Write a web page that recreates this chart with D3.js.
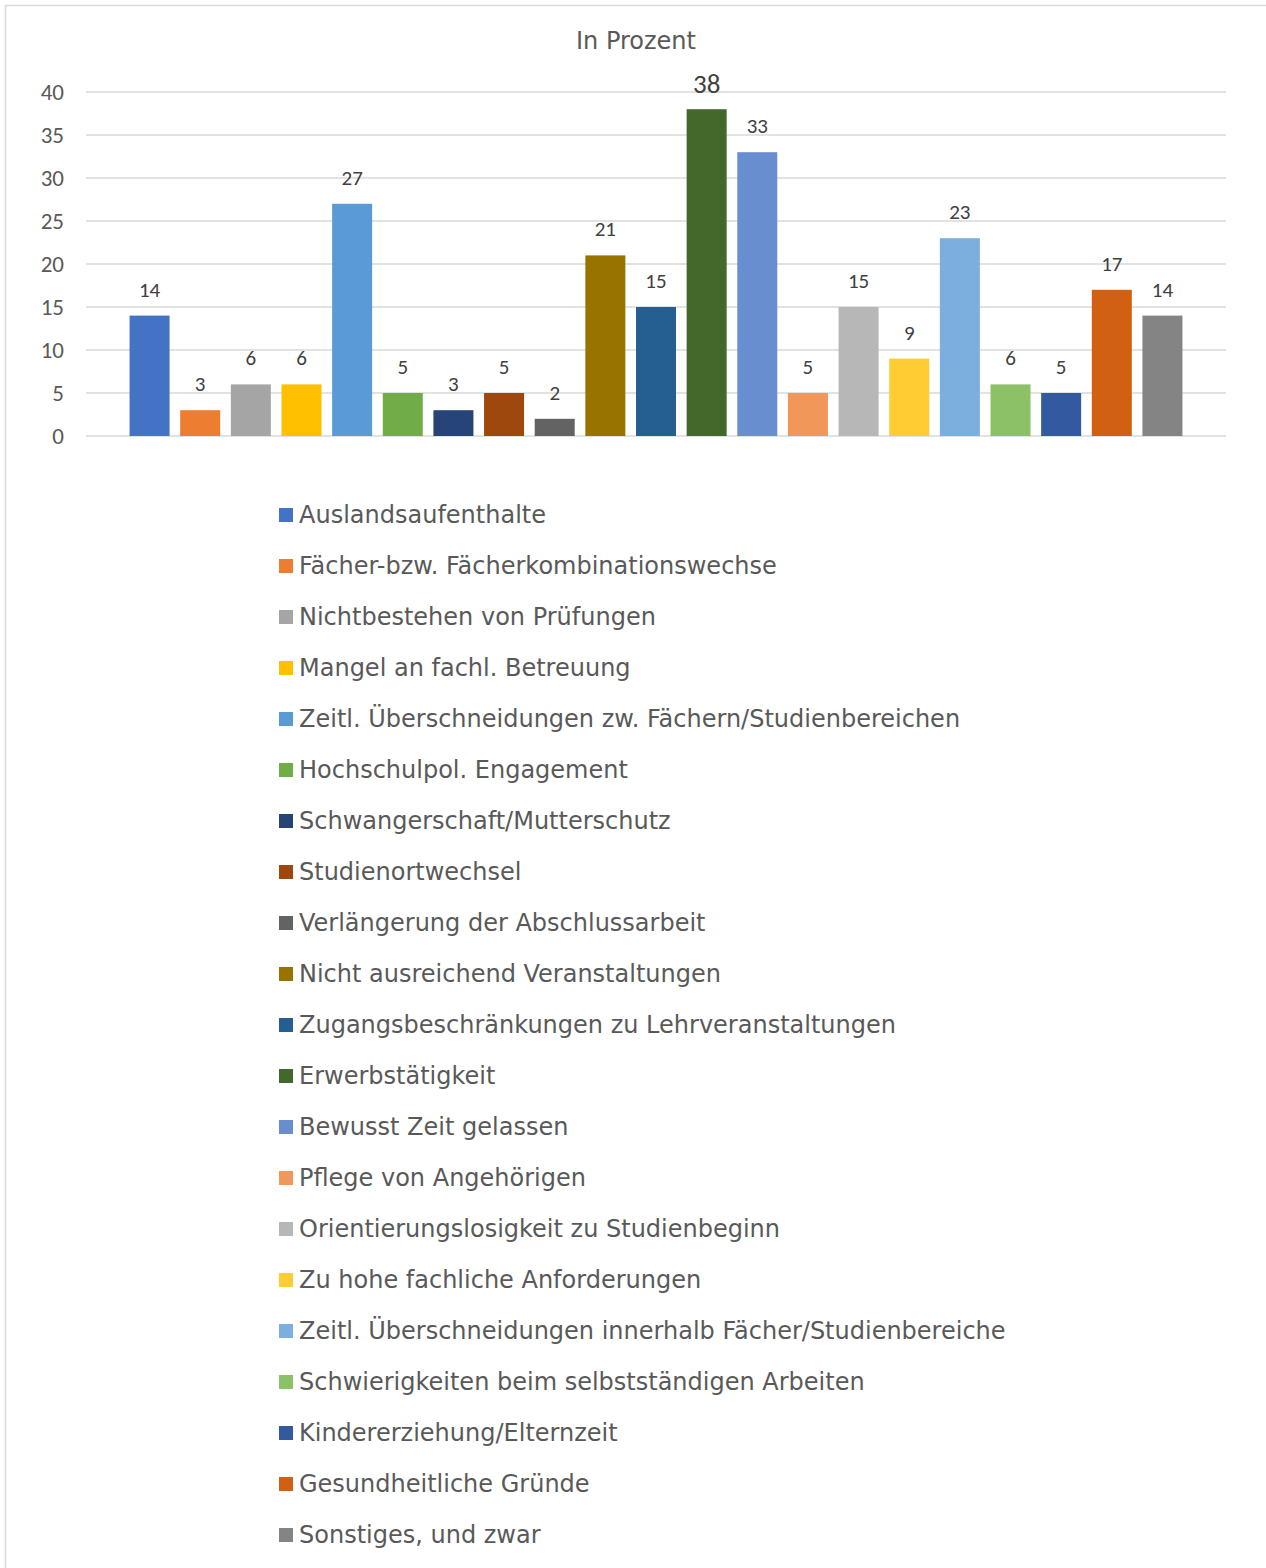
<!DOCTYPE html>
<html>
<head>
<meta charset="utf-8">
<script src="https://cdn.jsdelivr.net/npm/d3@7"></script>
<style>
  html, body { margin: 0; padding: 0; background: #fff; }
  svg { display: block; }
</style>
</head>
<body>
<div id="chart"></div>
<script>
// Gründe für die Studienzeitverlängerung, Angaben in Prozent
const categories = [
  "Auslandsaufenthalte",
  "Fächer-bzw. Fächerkombinationswechse",
  "Nichtbestehen von Prüfungen",
  "Mangel an fachl. Betreuung",
  "Zeitl. Überschneidungen zw. Fächern/Studienbereichen",
  "Hochschulpol. Engagement",
  "Schwangerschaft/Mutterschutz",
  "Studienortwechsel",
  "Verlängerung der Abschlussarbeit",
  "Nicht ausreichend Veranstaltungen",
  "Zugangsbeschränkungen zu Lehrveranstaltungen",
  "Erwerbstätigkeit",
  "Bewusst Zeit gelassen",
  "Pflege von Angehörigen",
  "Orientierungslosigkeit zu Studienbeginn",
  "Zu hohe fachliche Anforderungen",
  "Zeitl. Überschneidungen innerhalb Fächer/Studienbereiche",
  "Schwierigkeiten beim selbstständigen Arbeiten",
  "Kindererziehung/Elternzeit",
  "Gesundheitliche Gründe",
  "Sonstiges, und zwar"
];
const values = [14, 3, 6, 6, 27, 5, 3, 5, 2, 21, 15, 38, 33, 5, 15, 9, 23, 6, 5, 17, 14];
const colors = [
  "#4472C4", "#ED7D31", "#A5A5A5", "#FFC000", "#5B9BD5", "#70AD47", "#264478",
  "#9E480E", "#636363", "#997300", "#255E91", "#43682B", "#698ED0", "#F1975A",
  "#B7B7B7", "#FFCD33", "#7CAFDD", "#8CC168", "#335AA1", "#D26012", "#848484"
];
const yTicks = [0, 5, 10, 15, 20, 25, 30, 35, 40];
const title = "In Prozent";

const W = 1266, H = 1568;
const plot = { left: 86, right: 1226, top: 92, bottom: 436 };
const numFont = "Carlito, Lato, 'Open Sans', sans-serif";
const textFont = "'DejaVu Sans', sans-serif";
const textColor = "#595959";

const svg = d3.select("#chart").append("svg")
  .attr("width", W).attr("height", H);

// chart frame (left and top edges)
svg.append("path")
  .attr("d", `M5.5,${H} L5.5,5.5 L${W},5.5`)
  .attr("fill", "none")
  .attr("stroke", "#D9D9D9")
  .attr("stroke-width", 1.5);

const x = d3.scaleBand()
  .domain(categories)
  .range([plot.left, plot.right])
  .paddingInner(0.21)
  .paddingOuter(0.86);

const y = d3.scaleLinear()
  .domain([0, 40])
  .range([plot.bottom, plot.top]);

// gridlines
svg.append("g")
  .selectAll("line")
  .data(yTicks)
  .join("line")
  .attr("x1", plot.left).attr("x2", plot.right)
  .attr("y1", d => y(d)).attr("y2", d => y(d))
  .attr("stroke", "#D9D9D9")
  .attr("stroke-width", 1.5);

// y axis labels
const yAxis = svg.append("g")
  .attr("transform", `translate(${plot.left - 22},0)`)
  .call(d3.axisLeft(y).tickValues(yTicks).tickSize(0).tickPadding(0));
yAxis.select(".domain").remove();
yAxis.selectAll("text")
  .attr("font-family", numFont)
  .attr("font-size", 23)
  .attr("fill", textColor);

// title
svg.append("text")
  .attr("x", 636).attr("y", 41)
  .attr("text-anchor", "middle")
  .attr("dominant-baseline", "central")
  .attr("font-family", textFont)
  .attr("font-size", 24)
  .attr("fill", textColor)
  .text(title);

// bars
svg.append("g")
  .selectAll("rect")
  .data(categories)
  .join("rect")
  .attr("x", d => x(d))
  .attr("width", x.bandwidth())
  .attr("y", (d, i) => y(values[i]))
  .attr("height", (d, i) => y(0) - y(values[i]))
  .attr("fill", (d, i) => colors[i]);

// value labels
const maxVal = d3.max(values);
svg.append("g")
  .selectAll("text")
  .data(categories)
  .join("text")
  .attr("x", d => x(d) + x.bandwidth() / 2)
  .attr("y", (d, i) => y(values[i]) - 26)
  .attr("text-anchor", "middle")
  .attr("dominant-baseline", "central")
  .attr("font-family", numFont)
  .attr("font-size", (d, i) => values[i] === maxVal ? 27 : 21)
  .attr("fill", "#404040")
  .text((d, i) => values[i]);

// legend
const legend = svg.append("g");
const rows = legend.selectAll("g")
  .data(categories)
  .join("g")
  .attr("transform", (d, i) => `translate(279,${515 + i * 51})`);
rows.append("rect")
  .attr("x", 0).attr("y", -7)
  .attr("width", 14).attr("height", 14)
  .attr("fill", (d, i) => colors[i]);
rows.append("text")
  .attr("x", 20).attr("y", 0)
  .attr("dominant-baseline", "central")
  .attr("font-family", textFont)
  .attr("font-size", 24)
  .attr("fill", textColor)
  .text(d => d);
</script>
</body>
</html>
